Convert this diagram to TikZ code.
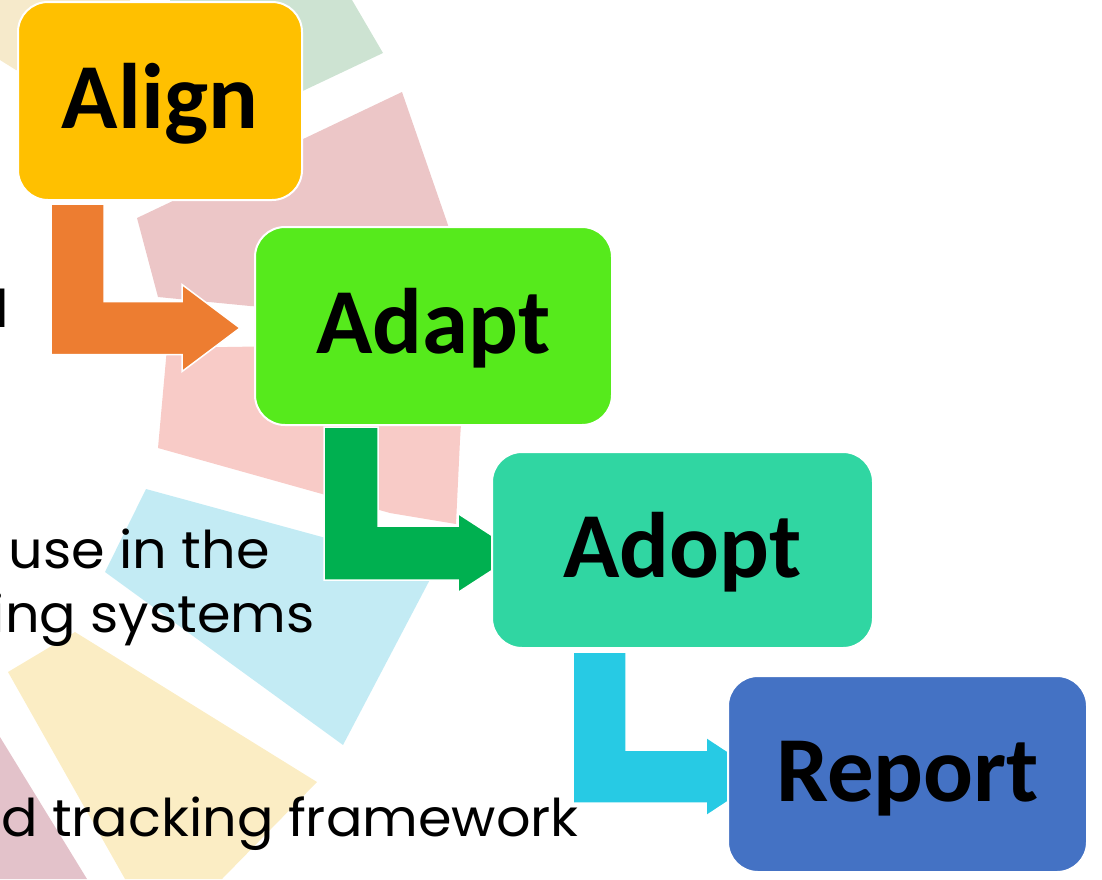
\documentclass[tikz,border=0pt]{standalone}
\usepackage{fontspec}
\setmainfont{Carlito}
\newfontfamily\bodyfont{Poppins}
\usetikzlibrary{calc}
\pgfdeclarelayer{back}
\pgfdeclarelayer{mid}
\pgfsetlayers{back,mid,main}
\definecolor{cAlign}{HTML}{FFC000}
\definecolor{cAdapt}{HTML}{56EA1C}
\definecolor{cAdopt}{HTML}{30D6A2}
\definecolor{cReport}{HTML}{4472C4}
\definecolor{aOrange}{HTML}{ED7D31}
\definecolor{aGreen}{HTML}{00B050}
\definecolor{aCyan}{HTML}{27CAE4}
\definecolor{wBeige}{HTML}{F6EACB}
\definecolor{wGreen}{HTML}{CDE3D2}
\definecolor{wPinkA}{HTML}{ECC6C7}
\definecolor{wPinkB}{HTML}{F8CBC7}
\definecolor{wBlue}{HTML}{C3EBF4}
\definecolor{wYellow}{HTML}{FBEDC4}
\definecolor{wMauve}{HTML}{E3C2CA}
% #1 colour, #2 start of bar (top-left), #3 tip, #4 half bar width, #5 half head width, #6 head length
\newcommand\bentarrow[6]{%
  \path[flowarrow, fill=#1] let \p1=(#2), \p2=(#3) in
    (\x1,\y1) -- (\x1+2*#4,\y1) -- (\x1+2*#4,\y2+#4) -- (\x2-#6,\y2+#4)
    -- (\x2-#6,\y2+#5) -- (\x2,\y2) -- (\x2-#6,\y2-#5) -- (\x2-#6,\y2-#4)
    -- (\x1,\y2-#4) -- cycle;}
\begin{document}
\begin{tikzpicture}[x=1pt,y=-1pt,
  stepbox/.style={draw=white, line width=2pt, rounded corners=30pt,
    font=\fontsize{93}{100}\bfseries\selectfont, text=black,
    text height=60pt, text depth=6pt, inner sep=0pt},
  bodytext/.style={anchor=base east, inner sep=0pt, text=black,
    font=\bodyfont\fontsize{52}{60}\selectfont},
  flowarrow/.style={draw=white, line width=1.5pt}]
\useasboundingbox (0,0) rectangle (1102,879);
\begin{pgfonlayer}{back}
\begin{scope}
\clip (0,0) rectangle (1102,879);
% background wedges
\fill[wBeige] (0,0) -- (130,0) -- (130,90) -- (16,70) -- (0,60) -- cycle;
\fill[wGreen] (170,0) -- (352,0) -- (383,53) -- (290,97) -- (200,100) -- cycle;
\fill[wPinkA] (137,218) -- (402,92) -- (448,225) -- (462,320) -- (250,306) -- (158,297) -- cycle;
\fill[wPinkB] (167,348) -- (466,343) -- (460,440) -- (456,524) -- (390,513) -- (158,448) -- cycle;
\fill[wBlue] (146,489) -- (436,568) -- (343,745) -- (105,572) -- cycle;
\fill[wYellow] (8,672) -- (75,632) -- (317,782) -- (222,879) -- (125,879) -- cycle;
\fill[wMauve] (0,737) -- (87,879) -- (0,879) -- cycle;
% partial body text
\node[bodytext] (t1) at (9,327) {\scalebox{1.04}[1]{d}};
\node[bodytext] (t2) at (270,568) {\scalebox{1.04}[1]{use in the}};
\node[bodytext] (t3) at (315,632) {\scalebox{1.04}[1]{ing systems}};
\node[bodytext] (t4) at (579,836) {\scalebox{1.04}[1]{d tracking framework}};
\end{scope}
\end{pgfonlayer}
% step boxes
\node[stepbox, fill=cAlign, minimum width=284pt, minimum height=198pt] (align) at (160,101) {Align};
\node[stepbox, fill=cAdapt, minimum width=357pt, minimum height=198pt] (adapt) at (433.5,326) {Adapt};
\node[stepbox, fill=cAdopt, minimum width=381pt, minimum height=196pt] (adopt) at (682.5,550) {Adopt};
\node[stepbox, fill=cReport, minimum width=359pt, minimum height=196pt] (report) at (907.5,774) {Report};
% bent block arrows between the boxes
\coordinate (s1) at ($(align.south west)+(34,3)$);
\coordinate (e1) at ($(adapt.west)+(-14,2)$);
\coordinate (s2) at ($(adapt.south west)+(70,1)$);
\coordinate (e2) at ($(adopt.west)+(28,3)$);
\coordinate (s3) at ($(adopt.south west)+(82,3)$);
\coordinate (e3) at ($(report.west)+(39,2.5)$);
\begin{pgfonlayer}{mid}
\bentarrow{aOrange}{s1}{e1}{26.5pt}{43.5pt}{58pt}
\bentarrow{aGreen}{s2}{e2}{27pt}{39.5pt}{61pt}
\bentarrow{aCyan}{s3}{e3}{26.5pt}{39.5pt}{60pt}
\end{pgfonlayer}
\end{tikzpicture}
\end{document}
